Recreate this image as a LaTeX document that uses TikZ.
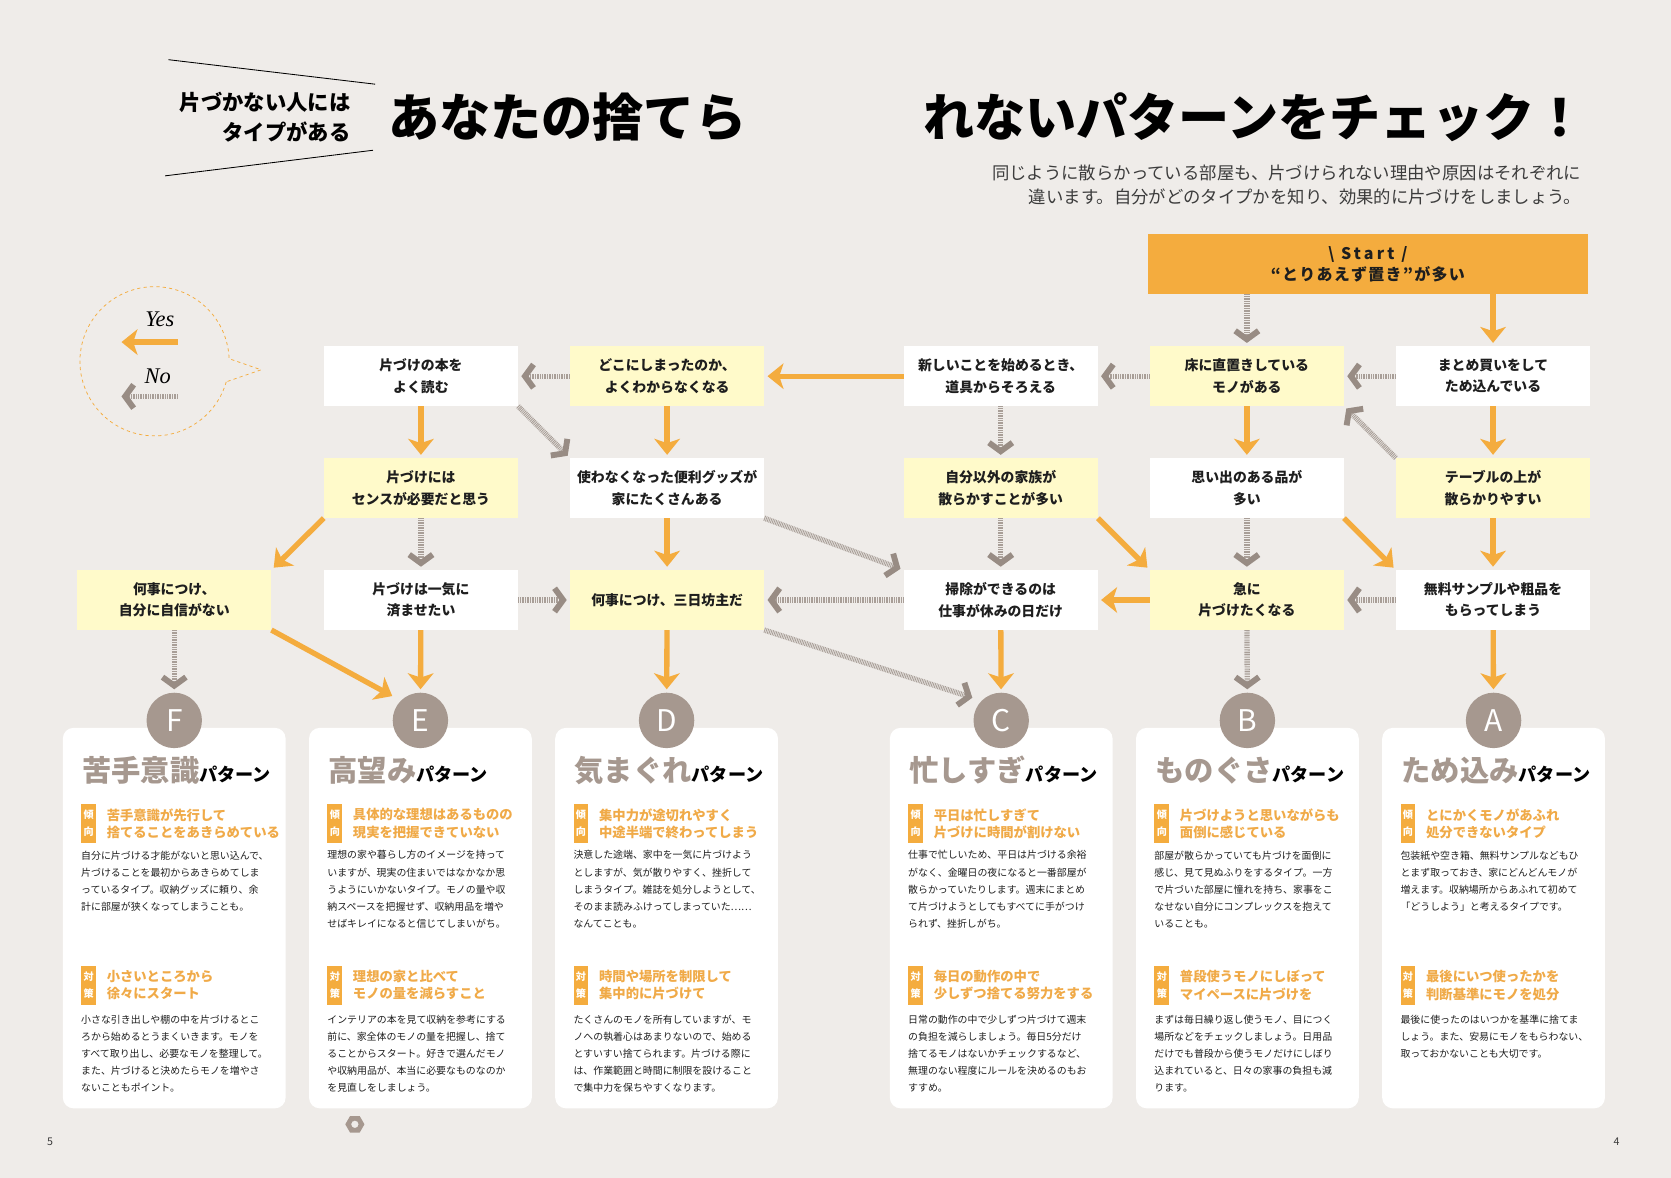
\documentclass[tikz,border=0pt]{standalone}
\usepackage{fontspec}
\setmainfont{Noto Sans CJK JP}
\newfontfamily\serifit{Liberation Serif}
\usepackage{tikz}
\usetikzlibrary{arrows.meta,positioning,shapes.geometric}
\usepackage{xcolor}
\definecolor{cBg}{RGB}{239,236,233}
\definecolor{cOrange}{RGB}{244,172,62}
\definecolor{cYellow}{RGB}{255,250,202}
\definecolor{cBrown}{RGB}{166,152,143}
\definecolor{cNoArr}{RGB}{168,158,151}
\definecolor{cNoHead}{RGB}{152,140,132}
\definecolor{cHead}{RGB}{240,170,72}
\definecolor{cText}{RGB}{30,30,30}
\definecolor{cSub}{RGB}{60,60,60}
\tikzset{
  basebox/.style={rectangle,align=center,inner sep=2pt,text=cText,
                  font=\bfseries\fontsize{13}{20}\selectfont},
  whitenode/.style={basebox,fill=white,minimum width=182pt,
                    minimum height=56pt},
  yellownode/.style={basebox,fill=cYellow,minimum width=182pt,
                     minimum height=56pt},
  startnode/.style={basebox,fill=cOrange,minimum width=413pt,
                    minimum height=56pt,
                    font=\bfseries\fontsize{15}{19.5}\selectfont},
  cardbox/.style={rectangle,rounded corners=10pt,fill=white,
                  minimum width=209pt,minimum height=357pt},
  circnode/.style={circle,fill=cBrown,text=white,minimum size=52pt,
                   inner sep=0pt,font=\fontsize{28}{28}\selectfont},
  titletext/.style={anchor=base west,inner sep=0pt,text=cBrown},
  tagbox/.style={anchor=north west,fill=cOrange,text=white,align=center,
                 inner sep=0pt,minimum width=14pt,minimum height=37pt,
                 font=\bfseries\fontsize{9.5}{16}\selectfont},
  headtext/.style={anchor=north west,inner sep=0pt,text=cHead,align=left,
                   font=\bfseries\fontsize{12.5}{16.5}\selectfont},
  bodytext/.style={anchor=north west,inner sep=0pt,text=cText,align=left,
                   font=\fontsize{9.3}{16}\selectfont},
  yesarr/.style={-{Stealth[length=15pt,width=24pt,inset=4pt,fill=cOrange]},
                 line width=5pt,draw=cOrange,shorten >=3pt},
  noarr/.style={-{Straight Barb[length=8pt,width=22pt,line width=5.5pt,
                 color=cNoHead]},
                line width=5pt,draw=cNoArr,dash pattern=on 0.8pt off 0.8pt,
                shorten >=3pt}
}
% one result card: id, centre x, name, tendency, text, remedy, text
\newcommand{\patterncard}[7]{%
  \node[cardbox] (card#1) at (#2,861.5) {};
  \node[circnode] (c#1) at (#2,676) {#1};
  \node[titletext] (t#1) at ({#2-86.5},733)
    {{\bfseries\fontsize{27.5}{30}\selectfont #3}{\color{black}\bfseries\fontsize{17}{20}\selectfont パターン}};
  \node[tagbox] (tag#1a) at ({#2-87.5},754) {傾\\向};
  \node[headtext] (h#1a) at ({#2-63.5},758.5) {#4};
  \node[bodytext] (b#1a) at ({#2-87.5},798) {#5};
  \node[tagbox] (tag#1b) at ({#2-87.5},906) {対\\策};
  \node[headtext] (h#1b) at ({#2-63.5},910) {#6};
  \node[bodytext] (b#1b) at ({#2-87.5},952) {#7};
}

\begin{document}
\begin{tikzpicture}[x=1pt,y=-1pt]
  \useasboundingbox (0,0) rectangle (1568,1105);
  \fill[cBg] (0,0) rectangle (1568,1105);

  % heading
  \draw[line width=0.8pt] (158,56) -- (352,79);
  \draw[line width=0.8pt] (155,165) -- (350,141);
  \node[anchor=east,align=right,inner sep=0pt,
        font=\bfseries\fontsize{20}{28}\selectfont] (kicker) at (329,110)
    {片づかない人には\\タイプがある};
  \node[anchor=west,inner sep=0pt,font=\bfseries\fontsize{48}{50}\selectfont]
    (titleL) at (364,110) {あなたの捨てら};
  \node[anchor=west,inner sep=0pt,font=\bfseries\fontsize{48}{50}\selectfont]
    (titleR) at (866,110) {れないパターンをチェック！};
  \node[anchor=east,align=right,inner sep=0pt,text=cSub,
        font=\fontsize{16.3}{23}\selectfont] (lead) at (1484,173.5)
    {同じように散らかっている部屋も、片づけられない理由や原因はそれぞれに\\
     違います。自分がどのタイプかを知り、効果的に片づけをしましょう。};

  % legend
  \draw[cOrange,dashed,line width=0.7pt] (212.3,358.3)
    arc[start angle=16,end angle=358,radius=70] -- (245,347) -- cycle;
  \node[font=\serifit\itshape\fontsize{21}{21}\selectfont] (yes) at (150,300) {Yes};
  \node[font=\serifit\itshape\fontsize{21}{21}\selectfont] (no) at (148,353) {No};
  \coordinate (yesR) at (167,321);
  \coordinate (yesL) at (114,321);
  \coordinate (noR) at (167,372);
  \coordinate (noL) at (114,372);
  \draw[yesarr,shorten >=0pt] (yesR) -- (yesL);
  \draw[noarr,shorten >=0pt] (noR) -- (noL);

  % start
  \node[startnode] (start) at (1283.5,248)
    {{\addfontfeature{LetterSpace=20}\textbackslash\ Start\ /}\\
     {\addfontfeature{LetterSpace=8}“とりあえず置き”が多い}};

  % questions
  \node[whitenode]  (book)   at (395,353)  {片づけの本を\\よく読む};
  \node[yellownode] (doko)   at (626,353)  {どこにしまったのか、\\よくわからなくなる};
  \node[whitenode]  (atara)  at (939,353)  {新しいことを始めるとき、\\道具からそろえる};
  \node[yellownode] (yuka)   at (1170,353) {床に直置きしている\\モノがある};
  \node[whitenode]  (matome) at (1401,353) {まとめ買いをして\\ため込んでいる};

  \node[yellownode] (sense)  at (395,458)  {片づけには\\センスが必要だと思う};
  \node[whitenode]  (benri)  at (626,458)  {使わなくなった便利グッズが\\家にたくさんある};
  \node[yellownode] (kazoku) at (939,458)  {自分以外の家族が\\散らかすことが多い};
  \node[whitenode]  (omoide) at (1170,458) {思い出のある品が\\多い};
  \node[yellownode] (table)  at (1401,458) {テーブルの上が\\散らかりやすい};

  \node[yellownode] (jishin) at (163.5,563) {何事につけ、\\自分に自信がない};
  \node[whitenode]  (ikki)   at (395,563)  {片づけは一気に\\済ませたい};
  \node[yellownode] (mikka)  at (626,563)  {何事につけ、三日坊主だ};
  \node[whitenode]  (souji)  at (939,563)  {掃除ができるのは\\仕事が休みの日だけ};
  \node[yellownode] (kyuni)  at (1170,563) {急に\\片づけたくなる};
  \node[whitenode]  (muryo)  at (1401,563) {無料サンプルや粗品を\\もらってしまう};

  % result cards
  \patterncard{F}{163.5}{苦手意識}
    {苦手意識が先行して\\捨てることをあきらめている}
    {自分に片づける才能がないと思い込んで、\\片づけることを最初からあきらめてしま\\っているタイプ。収納グッズに頼り、余\\計に部屋が狭くなってしまうことも。}
    {小さいところから\\徐々にスタート}
    {小さな引き出しや棚の中を片づけるとこ\\ろから始めるとうまくいきます。モノを\\すべて取り出し、必要なモノを整理して。\\また、片づけると決めたらモノを増やさ\\ないこともポイント。}
  \patterncard{E}{394.5}{高望み}
    {具体的な理想はあるものの\\現実を把握できていない}
    {理想の家や暮らし方のイメージを持って\\いますが、現実の住まいではなかなか思\\うようにいかないタイプ。モノの量や収\\納スペースを把握せず、収納用品を増や\\せばキレイになると信じてしまいがち。}
    {理想の家と比べて\\モノの量を減らすこと}
    {インテリアの本を見て収納を参考にする\\前に、家全体のモノの量を把握し、捨て\\ることからスタート。好きで選んだモノ\\や収納用品が、本当に必要なものなのか\\を見直しをしましょう。}
  \patterncard{D}{625.5}{気まぐれ}
    {集中力が途切れやすく\\中途半端で終わってしまう}
    {決意した途端、家中を一気に片づけよう\\としますが、気が散りやすく、挫折して\\しまうタイプ。雑誌を処分しようとして、\\そのまま読みふけってしまっていた……\\なんてことも。}
    {時間や場所を制限して\\集中的に片づけて}
    {たくさんのモノを所有していますが、モ\\ノへの執着心はあまりないので、始める\\とすいすい捨てられます。片づける際に\\は、作業範囲と時間に制限を設けること\\で集中力を保ちやすくなります。}
  \patterncard{C}{939.5}{忙しすぎ}
    {平日は忙しすぎて\\片づけに時間が割けない}
    {仕事で忙しいため、平日は片づける余裕\\がなく、金曜日の夜になると一番部屋が\\散らかっていたりします。週末にまとめ\\て片づけようとしてもすべてに手がつけ\\られず、挫折しがち。}
    {毎日の動作の中で\\少しずつ捨てる努力をする}
    {日常の動作の中で少しずつ片づけて週末\\の負担を減らしましょう。毎日5分だけ\\捨てるモノはないかチェックするなど、\\無理のない程度にルールを決めるのもお\\すすめ。}
  \patterncard{B}{1170.5}{ものぐさ}
    {片づけようと思いながらも\\面倒に感じている}
    {部屋が散らかっていても片づけを面倒に\\感じ、見て見ぬふりをするタイプ。一方\\で片づいた部屋に憧れを持ち、家事をこ\\なせない自分にコンプレックスを抱えて\\いることも。}
    {普段使うモノにしぼって\\マイペースに片づけを}
    {まずは毎日繰り返し使うモノ、目につく\\場所などをチェックしましょう。日用品\\だけでも普段から使うモノだけにしぼり\\込まれていると、日々の家事の負担も減\\ります。}
  \patterncard{A}{1401.5}{ため込み}
    {とにかくモノがあふれ\\処分できないタイプ}
    {包装紙や空き箱、無料サンプルなどもひ\\とまず取っておき、家にどんどんモノが\\増えます。収納場所からあふれて初めて\\「どうしよう」と考えるタイプです。}
    {最後にいつ使ったかを\\判断基準にモノを処分}
    {最後に使ったのはいつかを基準に捨てま\\しょう。また、安易にモノをもらわない、\\取っておかないことも大切です。}

  % yes
  \draw[yesarr] (start.south -| matome) -- (matome);
  \draw[yesarr] (matome) -- (table);
  \draw[yesarr] (table) -- (muryo);
  \draw[yesarr] (muryo) -- (cA);
  \draw[yesarr] (yuka) -- (omoide);
  \draw[yesarr] (omoide.south east) -- (muryo.north west);
  \draw[yesarr] (kazoku.south east) -- (kyuni.north west);
  \draw[yesarr] (kyuni) -- (souji);
  \draw[yesarr] (souji) -- (cC);
  \draw[yesarr] (atara) -- (doko);
  \draw[yesarr] (doko) -- (benri);
  \draw[yesarr] (benri) -- (mikka);
  \draw[yesarr] (mikka) -- (cD);
  \draw[yesarr] (book) -- (sense);
  \draw[yesarr] (sense.south west) -- (jishin.north east);
  \draw[yesarr,shorten >=9pt] (jishin.south east) -- (cE.north west);
  \draw[yesarr] (ikki) -- (cE);

  % no
  \draw[noarr] (start.south -| yuka) -- (yuka);
  \draw[noarr] (matome) -- (yuka);
  \draw[noarr] (yuka) -- (atara);
  \draw[noarr] (atara) -- (kazoku);
  \draw[noarr] (doko) -- (book);
  \draw[noarr] (book.south east) -- (benri.north west);
  \draw[noarr] (sense) -- (ikki);
  \draw[noarr] (ikki) -- (mikka);
  \draw[noarr] (benri.south east) -- (souji.north west);
  \draw[noarr,shorten >=9pt] (mikka.south east) -- (cC.north west);
  \draw[noarr] (kazoku) -- (souji);
  \draw[noarr] (omoide) -- (kyuni);
  \draw[noarr] (kyuni) -- (cB);
  \draw[noarr] (muryo) -- (kyuni);
  \draw[noarr] (table.north west) -- (yuka.south east);
  \draw[noarr] (souji) -- (mikka);
  \draw[noarr] (jishin) -- (cF);

  % page marks
  \fill[cBrown,even odd rule] (333,1055) +(0:9) -- +(60:9) -- +(120:9)
    -- +(180:9) -- +(240:9) -- +(300:9) -- cycle (333,1055) circle[radius=3.5];
  \node[text=cSub,font=\fontsize{10}{10}\selectfont] (pgL) at (47,1071) {5};
  \node[text=cSub,font=\fontsize{10}{10}\selectfont] (pgR) at (1517,1071) {4};
\end{tikzpicture}
\end{document}
